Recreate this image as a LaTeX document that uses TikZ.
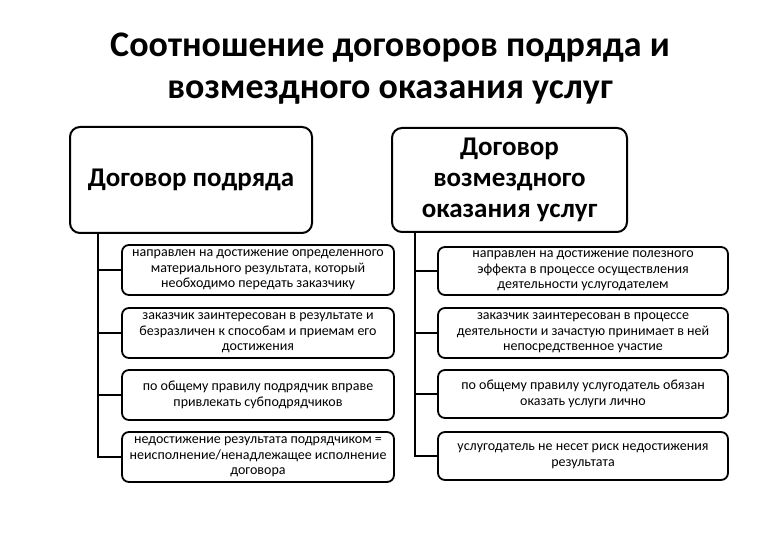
\documentclass[tikz,border=0pt]{standalone}
\usepackage{fontspec}
\setmainfont{Carlito}
\begin{document}
\begin{tikzpicture}[x=1pt,y=-1pt,
  head/.style={draw=black,line width=2pt,rounded corners=10pt,fill=white,align=center,font=\bfseries\fontsize{27}{31}\selectfont,inner sep=0pt},
  item/.style={draw=black,line width=1.8pt,rounded corners=7pt,fill=white,align=center,font=\fontsize{14}{15.5}\selectfont,inner sep=0pt},
  conn/.style={draw=black,line width=1.8pt}]
\useasboundingbox (0,0) rectangle (780,540);
\node[font=\bfseries\fontsize{36}{42}\selectfont,align=center] (title) at (390,69) {Соотношение договоров подряда и\\возмездного оказания услуг};
\node[head,minimum width=242pt,minimum height=106pt] (lh) at (191,180) {Договор подряда};
\node[head,minimum width=235pt,minimum height=104pt] (rh) at (509.5,180) {Договор\\возмездного\\оказания услуг};
\coordinate (tl) at (98,0);
\coordinate (tr) at (415,0);
\node[item,minimum width=272pt,minimum height=50pt] (l1) at (258,270) {направлен на достижение определенного\\материального результата, который\\необходимо передать заказчику};
\node[item,minimum width=272pt,minimum height=50pt] (l2) at (258,333) {заказчик заинтересован в результате и\\безразличен к способам и приемам его\\достижения};
\node[item,minimum width=272pt,minimum height=50pt] (l3) at (258,395) {по общему правилу подрядчик вправе\\привлекать субподрядчиков};
\node[item,minimum width=272pt,minimum height=50pt] (l4) at (258,457) {недостижение результата подрядчиком =\\неисполнение/ненадлежащее исполнение\\договора};
\node[item,minimum width=290pt,minimum height=48pt] (r1) at (583,271) {направлен на достижение полезного\\эффекта в процессе осуществления\\деятельности услугодателем};
\node[item,minimum width=290pt,minimum height=50pt] (r2) at (583,333) {заказчик заинтересован в процессе\\деятельности и зачастую принимает в ней\\непосредственное участие};
\node[item,minimum width=290pt,minimum height=48pt] (r3) at (583,394) {по общему правилу услугодатель обязан\\оказать услуги лично};
\node[item,minimum width=290pt,minimum height=48pt] (r4) at (583,456) {услугодатель не несет риск недостижения\\результата};
\draw[conn] (lh.south -| tl) |- (l1.west);
\draw[conn] (lh.south -| tl) |- (l2.west);
\draw[conn] (lh.south -| tl) |- (l3.west);
\draw[conn] (lh.south -| tl) |- (l4.west);
\draw[conn] (rh.south -| tr) |- (r1.west);
\draw[conn] (rh.south -| tr) |- (r2.west);
\draw[conn] (rh.south -| tr) |- (r3.west);
\draw[conn] (rh.south -| tr) |- (r4.west);
\end{tikzpicture}
\end{document}
